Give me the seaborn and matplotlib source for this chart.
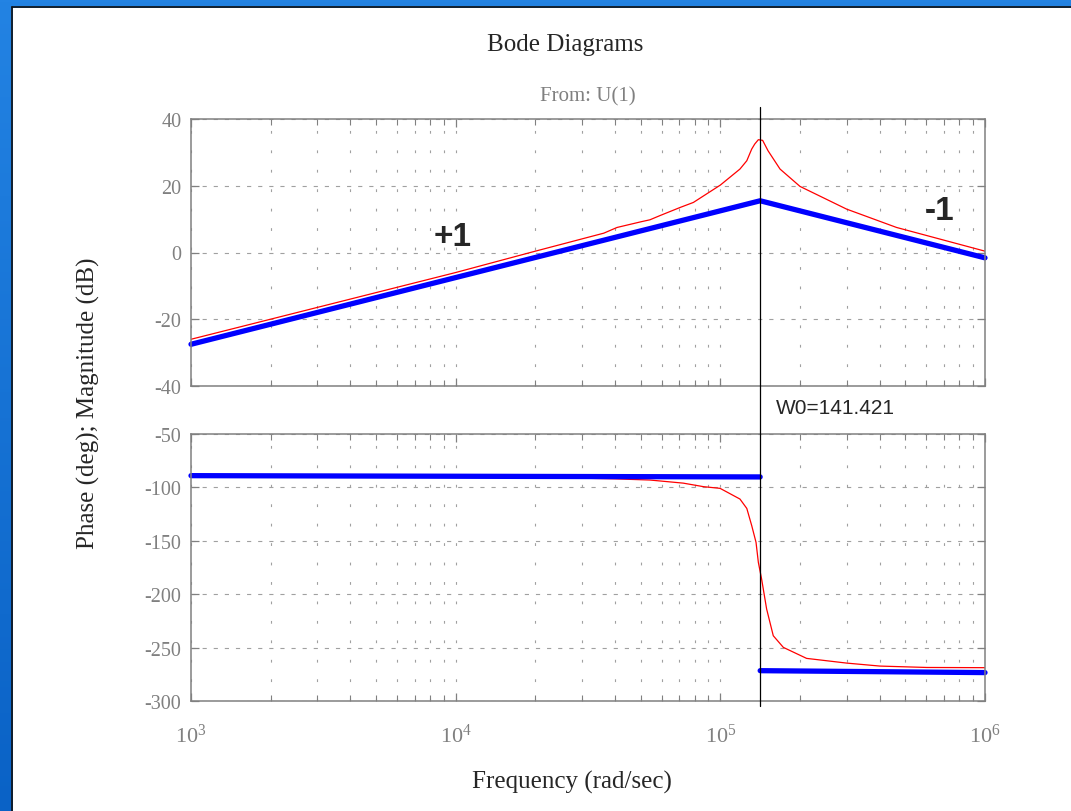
import numpy as np
import pandas as pd
import seaborn as sns
import matplotlib.pyplot as plt
import matplotlib.transforms as mtransforms
from matplotlib.colors import LinearSegmentedColormap
from matplotlib.patches import Rectangle
from matplotlib.ticker import FixedLocator, LogLocator, NullFormatter

# ---- data (frequencies in krad/s) ----
w0 = 141.421

mag_freq = [1.0, 3.162, 10.0, 20.0, 36.3, 40.7, 50.1, 54.2, 58.9, 70.5, 79.1,
            100.0, 118.6, 125.9, 131.4, 134.9, 139.2, 144.5, 151.4, 168.1,
            200.0, 300.0, 463.4, 1000.0]
mag_db = [-26.0, -16.0, -6.0, 0.4, 5.8, 7.5, 9.2, 9.8, 11.0, 13.5, 15.0,
          20.2, 25.0, 27.5, 31.0, 32.5, 33.8, 33.6, 30.5, 25.0,
          19.8, 13.0, 7.5, 0.4]

phase_freq = [1.0, 10.0, 20.0, 40.0, 54.2, 72.4, 86.3, 99.8, 118.6, 125.9,
              131.4, 136.4, 139.2, 143.2, 149.6, 158.5, 173.0, 211.8, 300.0,
              400.9, 602.6, 1000.0]
phase_deg = [-90.0, -90.0, -90.5, -92.0, -93.1, -96.0, -99.3, -100.9, -110.9,
             -119.7, -135.8, -151.4, -170.2, -185.8, -213.9, -238.9, -249.8,
             -260.1, -264.5, -267.3, -268.6, -268.8]

# straight-line approximations
asym_mag_freq = [1.0, w0, 1000.0]
asym_mag_db = [-27.5, 15.5, -1.6]
asym_ph_low_freq = [1.0, w0]
asym_ph_low_deg = [-89.0, -90.2]
asym_ph_high_freq = [w0, 1000.0]
asym_ph_high_deg = [-271.6, -273.4]

mag_ticks = [-40, -20, 0, 20, 40]
phase_ticks = [-300, -250, -200, -150, -100, -50]

df_mag = pd.DataFrame({"w": np.array(mag_freq) * 1e3, "v": mag_db})
df_ph = pd.DataFrame({"w": np.array(phase_freq) * 1e3, "v": phase_deg})
df_am = pd.DataFrame({"w": np.array(asym_mag_freq) * 1e3, "v": asym_mag_db})
df_pl = pd.DataFrame({"w": np.array(asym_ph_low_freq) * 1e3, "v": asym_ph_low_deg})
df_ph_hi = pd.DataFrame({"w": np.array(asym_ph_high_freq) * 1e3, "v": asym_ph_high_deg})

# ---- style ----
sns.set_theme(style="white")
plt.rcParams["font.family"] = ["Liberation Serif", "DejaVu Serif"]
plt.rcParams["mathtext.fontset"] = "stix"
plt.rcParams["lines.scale_dashes"] = False
plt.rcParams["axes.unicode_minus"] = False

W, H = 1071, 812
fig = plt.figure(figsize=(W / 100, H / 100), dpi=100)

# window frame
bg = fig.add_axes([0, 0, 1, 1], zorder=-10)
bg.set_axis_off()
cmap = LinearSegmentedColormap.from_list("frame", ["#2383e3", "#0a62c6"])
bg.imshow(np.linspace(0, 1, 256).reshape(-1, 1), aspect="auto", cmap=cmap,
          extent=[0, 1, 0, 1], origin="upper")
bg.add_patch(Rectangle((13 / W, 0), 1, 1 - 9 / H, facecolor="white", edgecolor="none"))
bg.plot([12 / W, 12 / W], [0, 1 - 8 / H], color="#111111", lw=1.2)
bg.plot([12 / W, 1], [1 - 8 / H, 1 - 8 / H], color="#111111", lw=1.2)
bg.set_xlim(0, 1)
bg.set_ylim(0, 1)

left, right = 191 / W, 985 / W
ax_mag = fig.add_axes([left, 1 - 387 / H, right - left, (387 - 120) / H])
ax_ph = fig.add_axes([left, 1 - 702 / H, right - left, (702 - 435) / H])

gray = "#808080"
grid_gray = "#a0a0a0"

for ax, ticks in ((ax_mag, mag_ticks), (ax_ph, phase_ticks)):
    ax.set_facecolor("white")
    ax.set_xscale("log")
    ax.set_xlim(1e3, 1e6)
    ax.set_ylim(ticks[0], ticks[-1])
    ax.yaxis.set_major_locator(FixedLocator(ticks))
    ax.xaxis.set_major_locator(LogLocator(base=10, numticks=10))
    ax.xaxis.set_minor_locator(LogLocator(base=10, subs=np.arange(2, 10), numticks=20))
    ax.xaxis.set_minor_formatter(NullFormatter())
    for s in ax.spines.values():
        s.set_color(gray)
        s.set_linewidth(1.1)
    ax.tick_params(axis="both", which="both", direction="in", colors=gray,
                   top=True, right=True, bottom=True, left=True)
    ax.tick_params(axis="both", which="major", length=6, width=0.9)
    ax.tick_params(axis="x", which="minor", length=4, width=0.8)
    ax.tick_params(axis="y", labelsize=14.5, labelcolor=gray, pad=7)
    ax.tick_params(axis="x", labelsize=16, labelcolor=gray, pad=16)
    ax.grid(False)
    ax.yaxis.grid(True, which="major", color=grid_gray, lw=0.8, linestyle=(0, (3, 5)))
    ax.xaxis.grid(True, which="both", color=grid_gray, lw=0.8, linestyle=(0, (2, 12)))
    ax.set_axisbelow(True)

ax_mag.tick_params(axis="x", labelbottom=False)

# magnitude
sns.lineplot(data=df_mag, x="w", y="v", ax=ax_mag, color="#ff0000", lw=0.9,
             estimator=None, sort=False)
sns.lineplot(data=df_am, x="w", y="v", ax=ax_mag, color="#0000ff", lw=3.8,
             estimator=None, sort=False, solid_capstyle="round", clip_on=False)

# phase
sns.lineplot(data=df_ph, x="w", y="v", ax=ax_ph, color="#ff0000", lw=0.9,
             estimator=None, sort=False)
for d in (df_pl, df_ph_hi):
    sns.lineplot(data=d, x="w", y="v", ax=ax_ph, color="#0000ff", lw=3.8,
                 estimator=None, sort=False, solid_capstyle="round", clip_on=False)

for ax in (ax_mag, ax_ph):
    ax.set_xlabel("")
    ax.set_ylabel("")
    ax.set_xlim(1e3, 1e6)

# resonance marker spanning both panels
trans = mtransforms.blended_transform_factory(ax_mag.transData, fig.transFigure)
fig.add_artist(plt.Line2D([w0 * 1e3, w0 * 1e3], [1 - 108 / H, 1 - 707 / H],
                          transform=trans, color="black", lw=0.9))

sans = ["Liberation Sans", "DejaVu Sans"]
ax_mag.text(9.7e3, 4.9, "+1", fontsize=24, fontweight="bold", family=sans,
            ha="center", va="center")
ax_mag.text(6.76e5, 12.7, "-1", fontsize=24, fontweight="bold", family=sans,
            ha="center", va="center")
ax_mag.text(1.62e5, -46.3, f"W0={w0:g}", fontsize=15, family=sans,
            ha="left", va="center", clip_on=False)

fig.text(565 / W, 1 - 45 / H, "Bode Diagrams", fontsize=18, ha="center", va="center")
fig.text(588 / W, 1 - 97 / H, "From: U(1)", fontsize=15, color=gray, ha="center", va="center")
fig.text(572 / W, 1 - 782 / H, "Frequency (rad/sec)", fontsize=18, ha="center", va="center")
fig.text(88 / W, 1 - 403 / H, "Phase (deg); Magnitude (dB)", fontsize=18,
         rotation=90, ha="center", va="center")

fig.savefig("out.png", dpi=100)
